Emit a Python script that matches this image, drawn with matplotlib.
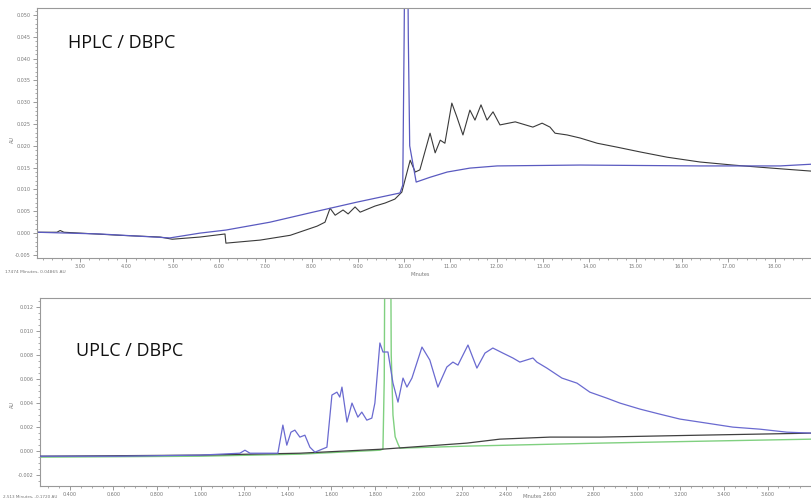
import matplotlib.pyplot as plt
from matplotlib.ticker import MultipleLocator, FixedLocator, FormatStrFormatter

# HPLC / DBPC  (minutes, AU)
hplc_sample_t = [2.07, 2.50, 2.57, 2.65, 3.00, 3.86, 4.73, 4.99, 5.59, 6.13, 6.15, 6.89, 7.54,
                 8.12, 8.29, 8.40, 8.51, 8.68, 8.79, 8.94, 9.05, 9.37, 9.59, 9.80, 9.95,
                 10.13, 10.24, 10.34, 10.56, 10.67, 10.78, 10.88, 11.03, 11.14, 11.27, 11.42,
                 11.53, 11.66, 11.79, 11.92, 12.07, 12.40, 12.78, 12.98, 13.15, 13.26, 13.52,
                 13.80, 14.17, 14.60, 15.10, 15.68, 16.39, 17.10, 17.69, 18.18, 18.81]
hplc_sample_v = [0.0002, 0.0002, 0.0006, 0.0002, 0.0000, -0.0005, -0.0009, -0.0014, -0.0009,
                 -0.0002, -0.0023, -0.0016, -0.0005, 0.0016, 0.0025, 0.0057, 0.0041, 0.0053,
                 0.0044, 0.0060, 0.0048, 0.0062, 0.0069, 0.0078, 0.0094, 0.0167, 0.0140,
                 0.0145, 0.0229, 0.0184, 0.0213, 0.0206, 0.0298, 0.0266, 0.0225, 0.0282,
                 0.0259, 0.0294, 0.0259, 0.0278, 0.0248, 0.0255, 0.0243, 0.0252, 0.0243,
                 0.0229, 0.0225, 0.0218, 0.0206, 0.0197, 0.0186, 0.0174, 0.0163, 0.0156,
                 0.0151, 0.0147, 0.0142]

hplc_blank_t = [2.07, 3.43, 4.94, 5.59, 6.15, 7.10, 8.03, 8.98, 9.91, 9.97, 10.00, 10.03,
                10.06, 10.09, 10.12, 10.26, 10.56, 10.93, 11.42, 12.01, 13.80, 16.39,
                18.12, 18.81]
hplc_blank_v = [0.0002, -0.0002, -0.0011, 0.0000, 0.0007, 0.0025, 0.0048, 0.0071, 0.0092,
                0.0110, 0.0450, 0.0900, 0.0900, 0.0450, 0.0200, 0.0117, 0.0128, 0.0140,
                0.0149, 0.0154, 0.0156, 0.0154, 0.0154, 0.0158]

hplc_xticks = [3, 4, 5, 6, 7, 8, 9, 10, 11, 12, 13, 14, 15, 16, 17, 18]

# UPLC / DBPC  (minutes, AU)
uplc_sample_t = [0.262, 0.629, 0.996, 1.180, 1.203, 1.226, 1.354, 1.377, 1.395, 1.414, 1.432,
                 1.455, 1.478, 1.501, 1.524, 1.579, 1.602, 1.625, 1.638, 1.648, 1.671, 1.694,
                 1.721, 1.739, 1.762, 1.785, 1.799, 1.822, 1.836, 1.859, 1.882, 1.905, 1.928,
                 1.946, 1.969, 2.015, 2.051, 2.088, 2.129, 2.157, 2.180, 2.226, 2.267, 2.304,
                 2.340, 2.386, 2.432, 2.464, 2.524, 2.542, 2.588, 2.657, 2.726, 2.785, 2.863,
                 2.923, 3.015, 3.106, 3.198, 3.322, 3.441, 3.565, 3.689, 3.804]
uplc_sample_v = [-0.00042, -0.00042, -0.00033, -0.00017, 0.00008, -0.00017, -0.00017, 0.00217,
                 0.00050, 0.00158, 0.00175, 0.00117, 0.00133, 0.00033, -0.00008, 0.00033,
                 0.00467, 0.00491, 0.00450, 0.00533, 0.00242, 0.00400, 0.00283, 0.00325,
                 0.00258, 0.00275, 0.00400, 0.00900, 0.00825, 0.00825, 0.00566, 0.00408,
                 0.00608, 0.00533, 0.00608, 0.00866, 0.00758, 0.00533, 0.00700, 0.00741,
                 0.00716, 0.00883, 0.00691, 0.00816, 0.00858, 0.00816, 0.00775, 0.00741,
                 0.00775, 0.00741, 0.00691, 0.00608, 0.00566, 0.00491, 0.00441, 0.00400,
                 0.00350, 0.00308, 0.00267, 0.00233, 0.00200, 0.00183, 0.00158, 0.00150]

uplc_dark_t = [0.262, 0.996, 1.455, 1.836, 2.221, 2.372, 2.602, 2.831, 3.290, 3.804]
uplc_dark_v = [-0.00042, -0.00033, -0.00017, 0.00017, 0.00067, 0.00100, 0.00117, 0.00117,
               0.00133, 0.00150]

uplc_blank_t = [0.262, 0.996, 1.455, 1.822, 1.836, 1.842, 1.848, 1.858, 1.868, 1.874, 1.882,
                1.892, 1.905, 1.914, 2.221, 2.831, 3.804]
uplc_blank_v = [-0.0005, -0.00042, -0.00025, 0.00008, 0.00017, 0.006, 0.03, 0.05, 0.03,
                0.008, 0.003, 0.0012, 0.0006, 0.00025, 0.00042, 0.00067, 0.00100]

uplc_xticks = [0.4, 0.6, 0.8, 1.0, 1.2, 1.4, 1.6, 1.8, 2.0, 2.2, 2.4, 2.6, 2.8, 3.0,
               3.2, 3.4, 3.6]

tick_col = '#8a8a8a'
text_font = ['Open Sans', 'DejaVu Sans']


def style_axes(ax, xticks, xmin, ymaj, ymin, xfmt, yfmt):
    ax.spines['right'].set_visible(False)
    for s in ['top', 'left', 'bottom']:
        ax.spines[s].set_color('#999999')
        ax.spines[s].set_linewidth(0.8)
    ax.xaxis.set_major_locator(FixedLocator(xticks))
    ax.xaxis.set_minor_locator(MultipleLocator(xmin))
    ax.yaxis.set_major_locator(MultipleLocator(ymaj))
    ax.yaxis.set_minor_locator(MultipleLocator(ymin))
    ax.xaxis.set_major_formatter(FormatStrFormatter(xfmt))
    ax.yaxis.set_major_formatter(FormatStrFormatter(yfmt))
    ax.tick_params(which='major', length=3, width=0.6, color=tick_col,
                   labelsize=3.5, labelcolor='#777777', pad=1.5)
    ax.tick_params(which='minor', length=1.5, width=0.5, color=tick_col)


fig = plt.figure(figsize=(8.12, 4.99), dpi=100)

# top panel
ax1 = fig.add_axes([0.0456, 0.483, 0.9544, 0.501])
ax1.plot(hplc_sample_t, hplc_sample_v, color='#3a3a3a', lw=0.8)
ax1.plot(hplc_blank_t, hplc_blank_v, color='#5a5ac0', lw=0.9)
ax1.set_xlim(2.07, 18.81)
ax1.set_ylim(-0.0057, 0.0516)
style_axes(ax1, hplc_xticks, 0.2, 0.005, 0.001, '%.2f', '%.3f')
ax1.text(0.04, 0.86, 'HPLC / DBPC', transform=ax1.transAxes, fontsize=13,
         family=text_font, color='#111111', va='center')
fig.text(0.012, 0.72, 'AU', rotation=90, fontsize=3.5, color='#777777', va='center')
fig.text(0.006, 0.455, '17474 Minutes, 0.04865 AU', fontsize=3.2, color='#777777', va='center')
fig.text(0.518, 0.449, 'Minutes', fontsize=3.5, color='#777777', ha='center', va='center')

# bottom panel
ax2 = fig.add_axes([0.049, 0.026, 0.951, 0.377])
ax2.plot(uplc_dark_t, uplc_dark_v, color='#404040', lw=0.9, zorder=3)
ax2.plot(uplc_blank_t, uplc_blank_v, color='#80d080', lw=1.0, zorder=2)
ax2.plot(uplc_sample_t, uplc_sample_v, color='#6a6ad0', lw=0.9, zorder=4)
ax2.set_xlim(0.262, 3.804)
ax2.set_ylim(-0.0029, 0.01275)
style_axes(ax2, uplc_xticks, 0.05, 0.002, 0.0005, '%.3f', '%.3f')
ax2.text(0.047, 0.72, 'UPLC / DBPC', transform=ax2.transAxes, fontsize=13,
         family=text_font, color='#111111', va='center')
fig.text(0.012, 0.19, 'AU', rotation=90, fontsize=3.5, color='#777777', va='center')
fig.text(0.004, 0.005, '2.513 Minutes, -0.1720 AU', fontsize=3.0, color='#777777', va='center')
fig.text(0.656, 0.005, 'Minutes', fontsize=3.5, color='#777777', ha='center', va='center')

fig.savefig('out.png', dpi=100)
